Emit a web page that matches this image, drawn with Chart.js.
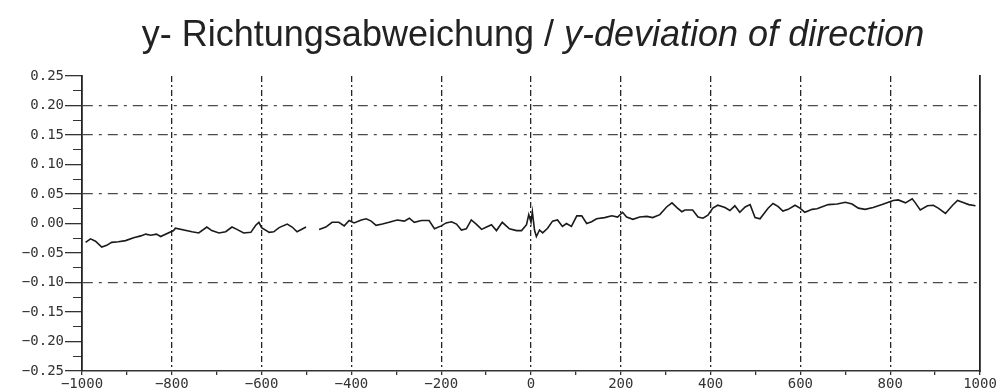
<!DOCTYPE html>
<html>
<head>
<meta charset="utf-8">
<script src="https://cdn.jsdelivr.net/npm/chart.js@4/dist/chart.umd.min.js"></script>
<style>
  html, body { margin: 0; padding: 0; background: #fff; }
  #wrap { position: relative; width: 1008px; height: 388px; }
  #title {
    position: absolute; left: 57px; top: 16px; width: 952px;
    text-align: center; font-family: "Liberation Sans", Arial, sans-serif;
    font-size: 36px; line-height: 36px; color: #222; white-space: nowrap;
  }
  #title i { font-style: italic; }
</style>
</head>
<body>
<div id="wrap">
  <canvas id="canvas" width="1008" height="388"></canvas>
  <div id="title">y- Richtungsabweichung / <i>y-deviation of direction</i></div>
</div>
<script>
// data
var xValues = [
  -992, -981, -970, -956, -945, -934, -919, -903, -885, -869, -858, -847, -834, -825,
  -796, -792, -755, -740, -722, -711, -695, -680, -666, -655, -640, -624, -613, -606,
  -600, -583, -573, -561, -543, -532, -521, -501, -487, -472, -457, -443, -428, -416,
  -405, -394, -378, -367, -356, -345, -331, -316, -298, -282, -271, -260, -244, -227,
  -215, -200, -189, -177, -166, -155, -144, -133, -122, -110, -99, -88, -77, -64,
  -48, -32, -21, -10, -5, 0, 3, 8, 12, 19, 26, 37, 48, 59, 70, 79, 90, 102, 113,
  124, 135, 146, 164, 180, 193, 204, 213, 227, 242, 258, 271, 287, 302, 314, 325,
  336, 343, 360, 372, 383, 394, 405, 416, 432, 443, 454, 465, 477, 488, 499, 510,
  528, 539, 550, 561, 573, 588, 599, 610, 626, 637, 662, 682, 700, 715, 729, 744,
  762, 782, 796, 807, 818, 834, 849, 856, 867, 883, 896, 907, 923, 939, 950, 961,
  975, 990
];
var yValues = [
  -0.032, -0.026, -0.030, -0.040, -0.037, -0.032, -0.031, -0.029, -0.024, -0.021, -0.018, -0.020, -0.018, -0.022,
  -0.012, -0.008, -0.014, -0.016, -0.006, -0.012, -0.016, -0.014, -0.006, -0.010, -0.016, -0.015, -0.003, 0.002,
  -0.007, -0.015, -0.014, -0.007, -0.001, -0.006, -0.014, -0.006, null, -0.010, -0.006, 0.002, 0.002, -0.004,
  0.005, 0.001, 0.006, 0.008, 0.004, -0.003, -0.001, 0.002, 0.006, 0.004, 0.009, 0.002, 0.005, 0.005,
  -0.009, -0.004, 0.001, 0.003, -0.001, -0.011, -0.009, 0.006, -0.001, -0.010, -0.006, -0.002, -0.012, 0.002,
  -0.009, -0.012, -0.012, -0.002, 0.015, 0.002, 0.020, -0.012, -0.022, -0.011, -0.016, -0.008, 0.004, 0.006, -0.005, 0.000, -0.005, 0.013, 0.013,
  0.000, 0.003, 0.008, 0.010, 0.013, 0.011, 0.019, 0.011, 0.007, 0.011, 0.012, 0.010, 0.015, 0.028, 0.035, 0.027,
  0.020, 0.023, 0.023, 0.011, 0.009, 0.014, 0.026, 0.031, 0.027, 0.022, 0.030, 0.019, 0.028, 0.032, 0.010, 0.008,
  0.026, 0.034, 0.029, 0.021, 0.024, 0.031, 0.026, 0.019, 0.024, 0.025, 0.032, 0.033, 0.036, 0.033, 0.026, 0.024,
  0.027, 0.032, 0.036, 0.039, 0.040, 0.035, 0.042, 0.035, 0.023, 0.030, 0.031, 0.026, 0.017, 0.031, 0.039, 0.036,
  0.032, 0.030
];

var xTickValues = [-1000, -900, -800, -700, -600, -500, -400, -300, -200, -100, 0, 100, 200, 300, 400, 500, 600, 700, 800, 900, 1000];
var xTickLabels = ['\u22121000', '', '\u2212800', '', '\u2212600', '', '\u2212400', '', '\u2212200', '', '0', '', '200', '', '400', '', '600', '', '800', '', '1000'];
var xGridValues = [-800, -600, -400, -200, 0, 200, 400, 600, 800];

var yTickValues = [0.25, 0.20, 0.15, 0.10, 0.05, 0.00, -0.05, -0.10, -0.15, -0.20, -0.25];
var yTickLabels = ['0.25', '0.20', '0.15', '0.10', '0.05', '0.00', '\u22120.05', '\u22120.10', '\u22120.15', '\u22120.20', '\u22120.25'];
var yMinorValues = [0.225, 0.175, 0.125, 0.075, 0.025, -0.025, -0.075, -0.125, -0.175, -0.225];
var yGridValues = [0.20, 0.15, 0.05, -0.10];

var points = [];
for (var i = 0; i < xValues.length; i++) {
  points.push({ x: xValues[i], y: yValues[i] });
}

function near(list, v) {
  for (var k = 0; k < list.length; k++) {
    if (Math.abs(list[k] - v) < 1e-6) return true;
  }
  return false;
}

var tickFont = { family: 'DejaVu Sans Mono', size: 14 };

// the scan's plotter lettering is wide, so space the tick labels out a bit
var wideLabels = {
  id: 'wideLabels',
  beforeInit: function (chart) { chart.ctx.letterSpacing = '1.5px'; }
};

new Chart(document.getElementById('canvas'), {
  type: 'line',
  data: {
    datasets: [{
      data: points,
      borderColor: '#1a1a1a',
      borderWidth: 1.6,
      pointRadius: 0,
      tension: 0,
      spanGaps: false
    }]
  },
  plugins: [wideLabels],
  options: {
    responsive: false,
    animation: false,
    layout: { padding: { top: 76, right: 28, left: 0, bottom: 0 } },
    plugins: { legend: { display: false }, tooltip: { enabled: false } },
    scales: {
      x: {
        type: 'linear',
        min: -1000,
        max: 1000,
        afterBuildTicks: function (s) { s.ticks = xTickValues.map(function (v) { return { value: v }; }); },
        afterFit: function (s) { s.height = 17; },
        ticks: {
          autoSkip: false,
          maxRotation: 0,
          padding: 1,
          color: '#333',
          font: tickFont,
          callback: function (v) { return xTickLabels[xTickValues.indexOf(v)]; }
        },
        grid: {
          color: function (c) { return near(xGridValues, c.tick.value) ? '#262626' : 'rgba(0,0,0,0)'; },
          lineWidth: 1.3,
          tickColor: '#333',
          tickLength: 4
        },
        border: { display: true, color: '#333', width: 1.6, dash: [6, 3, 2, 3] }
      },
      y: {
        type: 'linear',
        min: -0.25,
        max: 0.25,
        weight: 1,
        afterBuildTicks: function (s) { s.ticks = yTickValues.map(function (v) { return { value: v }; }); },
        afterFit: function (s) { s.width = 82; },
        ticks: {
          autoSkip: false,
          padding: 1,
          color: '#333',
          font: tickFont,
          callback: function (v) { return yTickLabels[yTickValues.indexOf(v)]; }
        },
        grid: {
          color: function (c) { return near(yGridValues, c.tick.value) ? '#4a4a4a' : 'rgba(0,0,0,0)'; },
          lineWidth: 1.3,
          tickColor: '#333',
          tickLength: 17
        },
        border: { display: true, color: '#222', width: 1.8, dash: [10, 6, 3, 6] }
      },
      yMinor: {
        type: 'linear',
        position: 'left',
        min: -0.25,
        max: 0.25,
        weight: 0,
        afterBuildTicks: function (s) { s.ticks = yMinorValues.map(function (v) { return { value: v }; }); },
        afterFit: function (s) { s.width = 0; },
        ticks: { display: false },
        grid: { drawOnChartArea: false, tickColor: '#333', tickLength: 9 },
        border: { display: false }
      },
      yRight: {
        type: 'linear',
        position: 'right',
        min: -0.25,
        max: 0.25,
        afterFit: function (s) { s.width = 0; },
        ticks: { display: false },
        grid: { display: false },
        border: { display: true, color: '#222', width: 1.8 }
      }
    }
  }
});
</script>
</body>
</html>
